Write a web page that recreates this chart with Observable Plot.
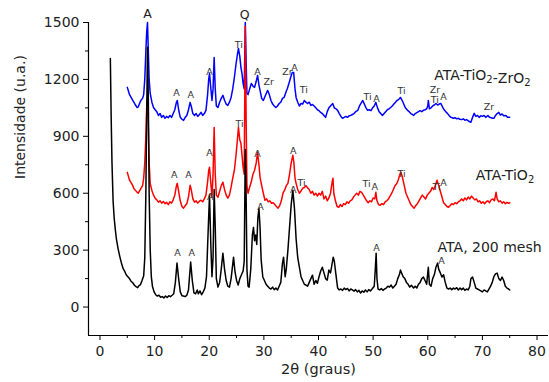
<!DOCTYPE html>
<html>
<head>
<meta charset="utf-8">
<script src="https://cdn.jsdelivr.net/npm/d3@7"></script>
<script src="https://cdn.jsdelivr.net/npm/@observablehq/plot@0.6"></script>
<style>
  html, body { margin: 0; padding: 0; background: #fff; }
  #chart svg { display: block; }
</style>
</head>
<body>
<div id="chart"></div>
<script>
// ---------- data (2θ in degrees, intensity in u.a.) ----------
const ata = [[1.9,1310],[2.05,1000],[2.2,760],[2.4,560],[2.6,470],[2.8,410],[3.0,360],[3.3,310],[3.6,270],[3.9,235],[4.2,205],[4.5,190],[4.8,170],[5.1,160],[5.4,150],[5.7,135],[6.0,128],[6.3,115],[6.6,108],[6.9,102],[7.1,112],[7.4,118],[7.7,140],[8.0,165],[8.2,260],[8.4,600],[8.55,1000],[8.7,1370],[8.85,1100],[9.0,600],[9.2,300],[9.4,160],[9.6,110],[9.9,80],[10.2,65],[10.5,58],[10.8,62],[11.1,52],[11.4,55],[11.7,48],[12.0,58],[12.3,50],[12.6,60],[12.9,55],[13.2,62],[13.5,70],[13.8,130],[14.1,232],[14.4,150],[14.7,80],[15.0,60],[15.3,58],[15.6,55],[15.9,62],[16.2,90],[16.6,237],[16.9,140],[17.2,75],[17.5,70],[17.8,90],[18.0,70],[18.3,85],[18.6,65],[18.9,80],[19.2,100],[19.5,160],[19.8,400],[20.05,590],[20.3,320],[20.5,160],[20.7,260],[20.9,620],[21.1,420],[21.3,150],[21.6,105],[21.9,130],[22.2,200],[22.5,284],[22.8,200],[23.1,140],[23.4,110],[23.7,105],[24.0,150],[24.2,200],[24.45,263],[24.7,190],[25.0,140],[25.3,116],[25.6,150],[25.9,170],[26.2,190],[26.4,240],[26.6,830],[26.75,600],[26.9,200],[27.1,110],[27.3,105],[27.6,200],[27.9,380],[28.1,420],[28.3,350],[28.5,380],[28.7,330],[28.9,470],[29.1,520],[29.3,420],[29.5,250],[29.8,160],[30.1,140],[30.4,120],[30.7,110],[31.0,100],[31.3,95],[31.6,105],[31.9,92],[32.2,100],[32.5,90],[32.8,110],[33.1,130],[33.4,230],[33.6,263],[33.9,160],[34.1,200],[34.4,300],[34.7,420],[35.0,540],[35.3,616],[35.6,520],[35.9,360],[36.2,260],[36.5,210],[36.8,160],[37.1,140],[37.4,120],[37.7,116],[38.0,110],[38.3,130],[38.6,150],[38.9,168],[39.2,120],[39.5,140],[39.8,125],[40.1,160],[40.4,190],[40.7,210],[41.0,180],[41.3,150],[41.6,142],[41.9,195],[42.2,180],[42.5,230],[42.7,263],[42.9,240],[43.2,170],[43.5,100],[43.8,90],[44.1,95],[44.4,88],[44.7,100],[45.0,92],[45.3,98],[45.6,85],[45.9,95],[46.2,90],[46.5,84],[46.8,92],[47.1,80],[47.4,88],[47.7,74],[48.0,85],[48.3,78],[48.6,90],[48.9,80],[49.2,92],[49.5,85],[49.8,95],[50.2,110],[50.4,200],[50.55,284],[50.7,150],[50.9,95],[51.2,90],[51.5,98],[51.8,88],[52.1,95],[52.4,100],[52.7,110],[53.0,105],[53.3,116],[53.6,100],[53.9,110],[54.2,120],[54.5,150],[54.8,170],[55.0,195],[55.2,180],[55.5,160],[55.8,150],[56.1,130],[56.4,120],[56.7,105],[57.0,115],[57.4,100],[57.7,110],[58.0,100],[58.3,120],[58.6,130],[58.9,150],[59.2,158],[59.5,140],[59.8,120],[60.0,180],[60.1,210],[60.3,120],[60.6,110],[60.9,150],[61.2,170],[61.5,210],[61.8,232],[62.0,200],[62.3,180],[62.6,158],[62.9,170],[63.2,130],[63.5,100],[63.8,95],[64.1,100],[64.4,92],[64.7,100],[65.0,95],[65.3,102],[65.6,90],[65.9,100],[66.2,92],[66.5,100],[66.8,88],[67.1,95],[67.4,90],[67.7,110],[67.9,150],[68.2,158],[68.5,130],[68.8,100],[69.1,95],[69.4,90],[69.7,85],[70.0,80],[70.3,90],[70.6,85],[70.9,80],[71.2,95],[71.5,110],[71.8,130],[72.1,160],[72.4,175],[72.7,179],[73.0,150],[73.3,140],[73.6,158],[73.9,140],[74.2,110],[74.5,100],[74.8,95],[75.0,90]];

const ataTiO2 = [[5.0,710],[5.2,690],[5.4,670],[5.6,660],[5.8,650],[6.0,640],[6.2,625],[6.5,615],[6.8,605],[7.0,600],[7.2,610],[7.5,625],[7.8,640],[8.0,680],[8.2,760],[8.4,900],[8.55,1050],[8.7,1105],[8.85,950],[9.0,760],[9.2,650],[9.5,615],[9.8,590],[10.1,574],[10.4,565],[10.7,553],[11.0,560],[11.3,548],[11.6,556],[11.9,545],[12.2,552],[12.5,540],[12.8,555],[13.1,548],[13.4,565],[13.7,590],[14.0,640],[14.15,652],[14.4,610],[14.7,560],[15.0,530],[15.3,521],[15.6,535],[15.9,545],[16.2,580],[16.5,642],[16.7,620],[17.0,570],[17.3,553],[17.6,560],[17.9,548],[18.2,558],[18.5,563],[18.8,555],[19.1,570],[19.4,590],[19.7,660],[19.9,720],[20.05,737],[20.3,650],[20.5,579],[20.7,700],[20.9,947],[21.1,700],[21.3,590],[21.6,579],[21.9,610],[22.2,640],[22.5,658],[22.8,620],[23.1,590],[23.4,574],[23.7,590],[24.0,632],[24.3,680],[24.6,721],[24.9,800],[25.15,880],[25.35,947],[25.6,880],[25.8,863],[26.0,800],[26.2,737],[26.4,700],[26.6,1480],[26.75,1000],[26.9,640],[27.1,600],[27.4,632],[27.7,660],[28.0,700],[28.3,721],[28.6,760],[28.85,816],[29.1,750],[29.3,684],[29.6,640],[29.9,600],[30.2,563],[30.5,570],[30.8,555],[31.1,560],[31.4,547],[31.7,550],[32.0,540],[32.3,530],[32.6,521],[32.9,535],[33.2,560],[33.5,600],[33.8,616],[34.1,640],[34.4,652],[34.7,700],[35.0,760],[35.3,800],[35.5,760],[35.7,680],[35.9,652],[36.2,620],[36.5,600],[36.8,612],[37.1,626],[37.4,630],[37.7,640],[38.0,628],[38.3,620],[38.6,600],[38.9,610],[39.2,590],[39.5,600],[39.8,585],[40.1,600],[40.4,590],[40.7,610],[41.0,570],[41.3,585],[41.6,560],[41.9,575],[42.2,600],[42.5,660],[42.65,679],[42.8,600],[43.1,560],[43.4,530],[43.7,526],[44.0,540],[44.3,530],[44.6,545],[44.9,540],[45.2,555],[45.5,547],[45.8,560],[46.1,565],[46.4,580],[46.7,590],[47.0,600],[47.3,590],[47.6,610],[47.9,605],[48.2,590],[48.5,575],[48.8,560],[49.1,550],[49.4,560],[49.7,555],[50.0,575],[50.3,570],[50.5,605],[50.7,560],[51.0,540],[51.3,537],[51.6,545],[51.9,540],[52.2,555],[52.5,560],[52.8,570],[53.1,585],[53.4,600],[53.7,620],[54.0,640],[54.3,650],[54.6,670],[54.9,700],[55.1,710],[55.4,680],[55.7,640],[56.0,600],[56.3,580],[56.6,560],[56.9,540],[57.2,530],[57.5,521],[57.8,535],[58.1,545],[58.4,560],[58.7,575],[59.0,590],[59.3,580],[59.6,570],[59.9,590],[60.2,600],[60.5,610],[60.8,630],[61.1,620],[61.4,642],[61.7,668],[62.0,640],[62.3,610],[62.6,580],[62.9,550],[63.2,540],[63.5,530],[63.8,526],[64.1,535],[64.4,545],[64.7,540],[65.0,550],[65.3,545],[65.6,555],[65.9,560],[66.2,570],[66.5,560],[66.8,575],[67.1,565],[67.4,580],[67.7,570],[68.0,585],[68.3,575],[68.6,565],[68.9,570],[69.2,555],[69.5,560],[69.8,547],[70.1,555],[70.4,545],[70.7,555],[71.0,560],[71.3,550],[71.6,565],[71.9,570],[72.2,560],[72.5,605],[72.7,570],[73.0,555],[73.3,560],[73.6,548],[73.9,555],[74.2,545],[74.5,552],[74.8,547],[75.0,550]];

const ataTiO2ZrO2 = [[5.0,1158],[5.2,1140],[5.4,1120],[5.6,1110],[5.8,1100],[6.0,1090],[6.2,1080],[6.5,1065],[6.8,1052],[7.0,1055],[7.2,1070],[7.5,1090],[7.8,1100],[8.0,1120],[8.2,1200],[8.4,1350],[8.55,1450],[8.7,1500],[8.85,1350],[9.0,1200],[9.2,1126],[9.5,1080],[9.8,1052],[10.1,1040],[10.4,1030],[10.7,1010],[11.0,1020],[11.3,1000],[11.6,1010],[11.9,995],[12.2,1005],[12.5,998],[12.8,1010],[13.1,1000],[13.4,1020],[13.7,1040],[14.0,1080],[14.15,1089],[14.4,1040],[14.7,1000],[15.0,990],[15.3,984],[15.6,1000],[15.9,1010],[16.2,1040],[16.5,1079],[16.7,1060],[17.0,1020],[17.3,1010],[17.6,1020],[17.9,1005],[18.2,1015],[18.5,1026],[18.8,1010],[19.1,1020],[19.4,1037],[19.7,1120],[19.9,1200],[20.05,1231],[20.3,1150],[20.5,1089],[20.7,1150],[20.9,1316],[21.1,1150],[21.3,1060],[21.6,1052],[21.9,1080],[22.2,1100],[22.5,1116],[22.8,1090],[23.1,1070],[23.4,1063],[23.7,1080],[24.0,1105],[24.3,1150],[24.6,1210],[24.9,1280],[25.15,1330],[25.35,1363],[25.6,1320],[25.8,1263],[26.0,1230],[26.2,1179],[26.4,1150],[26.6,1500],[26.75,1300],[26.9,1126],[27.1,1120],[27.4,1150],[27.7,1179],[28.0,1165],[28.3,1158],[28.6,1190],[28.85,1221],[29.1,1170],[29.3,1142],[29.6,1100],[29.9,1089],[30.2,1110],[30.5,1130],[30.7,1142],[31.0,1120],[31.3,1089],[31.6,1070],[31.9,1060],[32.2,1052],[32.5,1060],[32.8,1073],[33.1,1080],[33.4,1100],[33.7,1105],[34.0,1130],[34.3,1152],[34.6,1180],[34.9,1210],[35.2,1237],[35.45,1237],[35.7,1150],[35.9,1105],[36.2,1080],[36.5,1060],[36.8,1073],[37.1,1070],[37.4,1089],[37.7,1080],[38.0,1073],[38.3,1080],[38.6,1063],[38.9,1068],[39.2,1060],[39.5,1050],[39.8,1040],[40.1,1035],[40.4,1026],[40.7,1020],[41.0,1010],[41.3,1000],[41.6,1030],[41.9,1050],[42.2,1060],[42.6,1073],[42.9,1050],[43.2,1045],[43.5,1037],[43.8,1020],[44.1,1005],[44.4,995],[44.7,1000],[45.0,1005],[45.3,1000],[45.6,1008],[45.9,1010],[46.2,1015],[46.5,1020],[46.8,1030],[47.2,1037],[47.5,1060],[47.8,1075],[48.1,1089],[48.4,1070],[48.7,1050],[49.0,1037],[49.3,1040],[49.6,1035],[49.9,1050],[50.2,1060],[50.5,1079],[50.8,1050],[51.1,1030],[51.4,1020],[51.7,1010],[52.0,1020],[52.3,1030],[52.6,1040],[52.9,1045],[53.2,1052],[53.5,1060],[53.8,1070],[54.1,1080],[54.4,1090],[54.7,1095],[55.0,1105],[55.3,1090],[55.6,1070],[55.9,1050],[56.3,1037],[56.6,1030],[56.9,1020],[57.2,1015],[57.4,1010],[57.7,1020],[58.0,1025],[58.3,1030],[58.6,1035],[58.9,1030],[59.2,1037],[59.5,1040],[59.8,1045],[60.0,1060],[60.1,1089],[60.3,1045],[60.6,1050],[60.9,1060],[61.2,1065],[61.5,1073],[61.8,1065],[62.1,1070],[62.4,1073],[62.7,1055],[63.0,1040],[63.3,1030],[63.6,1021],[63.9,1010],[64.2,1000],[64.5,998],[64.7,995],[65.0,998],[65.3,992],[65.6,995],[65.9,990],[66.2,988],[66.5,992],[66.8,985],[67.1,988],[67.3,984],[67.6,978],[67.9,974],[68.2,1000],[68.5,1021],[68.8,1005],[69.1,1010],[69.4,1000],[69.7,1008],[70.0,1005],[70.3,1010],[70.6,1000],[71.0,1010],[71.3,1000],[71.6,998],[71.9,995],[72.1,995],[72.4,1010],[72.7,1020],[73.0,1026],[73.3,1012],[73.6,1018],[73.9,1008],[74.3,1010],[74.6,1000],[75.0,1000]];

// tick values
const xTicks = [0, 10, 20, 30, 40, 50, 60, 70, 80];
const xMinor = [5, 15, 25, 35, 45, 55, 65, 75];
const yTicks = [0, 300, 600, 900, 1200, 1500];
const yMinor = [150, 450, 750, 1050, 1350];

// series names
const seriesLabels = [
  {x: 61.2, y: 1221, t: "ATA-TiO2-ZrO2"},
  {x: 68.8, y: 695, t: "ATA-TiO2"},
  {x: 61.8, y: 316, t: "ATA, 200 mesh"}
];

// phase labels over peaks
const bigLabels = [
  {x: 8.7, y: 1545, t: "A"},
  {x: 26.5, y: 1540, t: "Q"}
];
const peakLabels = [
  // ATA-TiO2-ZrO2
  {x: 14.0, y: 1126, t: "A"}, {x: 16.6, y: 1116, t: "A"}, {x: 20.05, y: 1237, t: "A"},
  {x: 25.4, y: 1384, t: "Ti"}, {x: 28.85, y: 1237, t: "A"}, {x: 30.9, y: 1184, t: "Zr"},
  {x: 34.3, y: 1237, t: "Zr"}, {x: 35.6, y: 1263, t: "A"}, {x: 37.3, y: 1147, t: "Ti"},
  {x: 49.0, y: 1105, t: "Ti"}, {x: 50.6, y: 1095, t: "A"}, {x: 55.2, y: 1137, t: "Ti"},
  {x: 61.3, y: 1142, t: "Zr"}, {x: 61.3, y: 1090, t: "Ti"}, {x: 62.9, y: 1105, t: "A"},
  {x: 71.2, y: 1053, t: "Zr"},
  // ATA-TiO2
  {x: 13.6, y: 695, t: "A"}, {x: 16.2, y: 695, t: "A"}, {x: 20.05, y: 810, t: "A"},
  {x: 25.55, y: 963, t: "Ti"}, {x: 28.85, y: 805, t: "A"}, {x: 35.4, y: 821, t: "A"},
  {x: 36.9, y: 653, t: "Ti"}, {x: 48.8, y: 647, t: "Ti"}, {x: 50.3, y: 632, t: "A"},
  {x: 55.2, y: 700, t: "Ti"}, {x: 61.6, y: 632, t: "Ti"}, {x: 62.9, y: 653, t: "A"},
  // ATA, 200 mesh
  {x: 20.2, y: 579, t: "A"}, {x: 14.2, y: 284, t: "A"}, {x: 16.8, y: 284, t: "A"},
  {x: 29.4, y: 526, t: "A"}, {x: 35.4, y: 616, t: "A"}, {x: 50.6, y: 310, t: "A"},
  {x: 62.5, y: 243, t: "A"}
];

const FONT = "DejaVu Sans, Liberation Sans, Arial, sans-serif";

const chart = Plot.plot({
  width: 549,
  height: 382,
  marginLeft: 88,
  marginRight: 1,
  marginTop: 22,
  marginBottom: 47,
  style: {fontFamily: FONT, background: "#fff", color: "#222"},
  x: {domain: [-2.1, 82.1]},
  y: {domain: [-150, 1500]},
  marks: [
    Plot.line(ataTiO2ZrO2, {x: d => d[0], y: d => d[1], stroke: "#0000ff", strokeWidth: 1.5}),
    Plot.line(ataTiO2, {x: d => d[0], y: d => d[1], stroke: "#ff0000", strokeWidth: 1.5}),
    Plot.line(ata, {x: d => d[0], y: d => d[1], stroke: "#000000", strokeWidth: 1.5}),
    Plot.text(peakLabels, {x: "x", y: "y", text: "t", fontSize: 9.5, fill: "#333"}),
    Plot.text(bigLabels, {x: "x", y: "y", text: "t", fontSize: 12.5, fill: "#222"}),
    Plot.text(seriesLabels, {x: "x", y: "y", text: "t", fontSize: 14, fill: "#222", textAnchor: "start"}),
    Plot.ruleY([-150], {stroke: "black", strokeWidth: 1.2}),
    Plot.ruleX([-2.1], {stroke: "black", strokeWidth: 1.2}),
    Plot.axisX({ticks: xTicks, tickSize: 5, tickPadding: 6, fontSize: 14, label: null, stroke: "black", fill: "#222", tickFormat: d => String(d)}),
    Plot.axisX({ticks: xMinor, tickSize: 3, tickFormat: () => "", label: null, stroke: "black"}),
    Plot.axisY({ticks: yTicks, tickSize: 5, tickPadding: 4, fontSize: 14, label: null, stroke: "black", fill: "#222", tickFormat: d => String(d)}),
    Plot.axisY({ticks: yMinor, tickSize: 3, tickFormat: () => "", label: null, stroke: "black"}),
    Plot.text(["Intensidade (u.a.)"], {frameAnchor: "left", dx: -68, rotate: -90, fontSize: 14, fill: "#222"}),
    Plot.text(["2θ (graus)"], {frameAnchor: "bottom", dy: 38, fontSize: 14.5, fill: "#222"})
  ]
});

// render chemical formulas with subscripts
d3.select(chart).selectAll("text").each(function() {
  const s = this.textContent;
  if (/O2/.test(s) && this.childElementCount === 0) {
    const parts = s.split(/(O2)/);
    this.textContent = "";
    const sel = d3.select(this);
    for (const p of parts) {
      if (p === "O2") {
        sel.append("tspan").text("O");
        sel.append("tspan").attr("dy", "0.3em").attr("font-size", "10").text("2");
        sel.append("tspan").attr("dy", "-0.3em").text("");
      } else if (p) {
        sel.append("tspan").text(p);
      }
    }
  }
});

document.getElementById("chart").appendChild(chart);
</script>
</body>
</html>
